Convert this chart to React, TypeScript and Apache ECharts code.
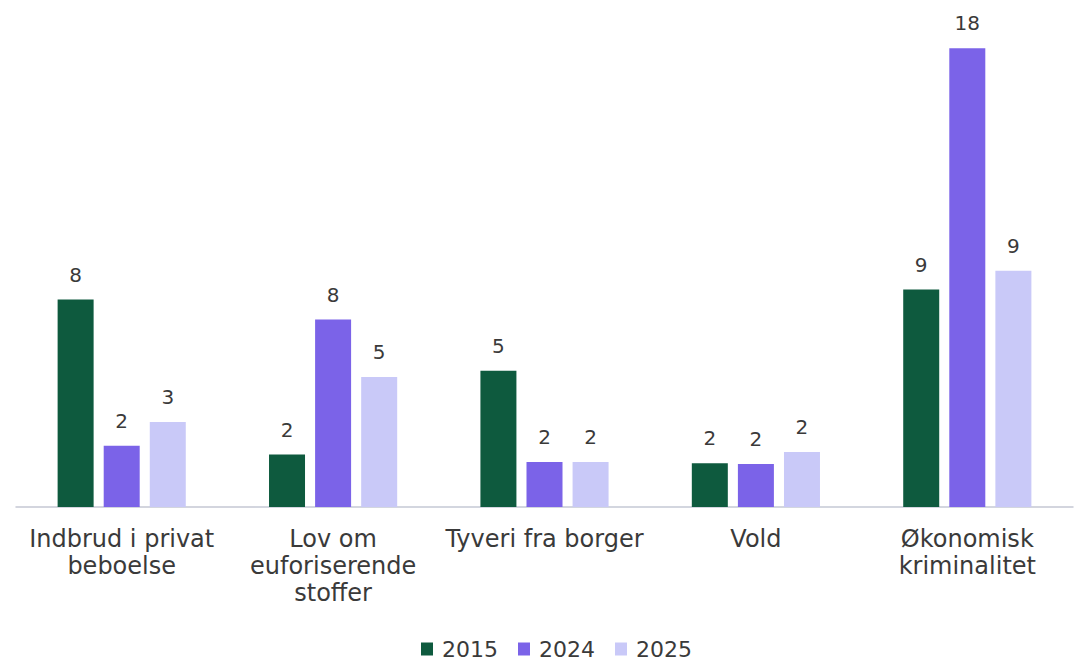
import React, { useEffect, useRef } from "react";
import * as echarts from "echarts";

const categories = [
  "Indbrud i privat\nbeboelse",
  "Lov om\neuforiserende\nstoffer",
  "Tyveri fra borger",
  "Vold",
  "Økonomisk\nkriminalitet",
];
const seriesNames = ["2015", "2024", "2025"];
const values2015 = [8.3, 2.1, 5.45, 1.75, 8.7];
const values2024 = [2.45, 7.5, 1.8, 1.72, 18.35];
const values2025 = [3.4, 5.2, 1.8, 2.2, 9.45];
const colors = ["#0e5a3e", "#7b63e8", "#c9c9f8"];

const FONT = "'DejaVu Sans', sans-serif";
const TEXT = "#3a3a3a";

export default function App() {
  const ref = useRef<HTMLDivElement>(null);
  useEffect(() => {
    if (!ref.current) return;
    const chart = echarts.init(ref.current, undefined, { renderer: "svg" });
    const data = [values2015, values2024, values2025];
    chart.setOption({
      animation: false,
      textStyle: { fontFamily: FONT },
      grid: { left: 16, right: 1, top: 7, bottom: 153, containLabel: false },
      legend: {
        left: 416,
        top: 633,
        itemWidth: 12,
        itemHeight: 13,
        itemGap: 20,
        icon: "rect",
        textStyle: {
          fontSize: 22,
          lineHeight: 22,
          color: TEXT,
          fontFamily: FONT,
          padding: [0, 0, 0, 4],
        },
        data: seriesNames,
      },
      xAxis: {
        type: "category",
        data: categories,
        axisLine: { show: true, lineStyle: { color: "#c5c8d4", width: 1.5 } },
        axisTick: { show: false },
        axisLabel: {
          color: TEXT,
          fontSize: 24,
          lineHeight: 27,
          margin: 18,
          interval: 0,
          fontFamily: FONT,
        },
      },
      yAxis: {
        type: "value",
        min: 0,
        max: 20,
        show: false,
        splitLine: { show: false },
      },
      series: seriesNames.map((name, i) => ({
        name,
        type: "bar",
        data: data[i],
        barWidth: 36,
        barGap: "28%",
        itemStyle: { color: colors[i] },
        label: {
          show: true,
          position: "top",
          distance: 15,
          color: TEXT,
          fontSize: 20,
          fontFamily: FONT,
          formatter: (p: any) => String(Math.round(p.value)),
        },
      })),
    });
    return () => chart.dispose();
  }, []);
  return (
    <div
      ref={ref}
      style={{ position: "fixed", left: 0, top: 0, width: 1074, height: 660, background: "#fff" }}
    />
  );
}
